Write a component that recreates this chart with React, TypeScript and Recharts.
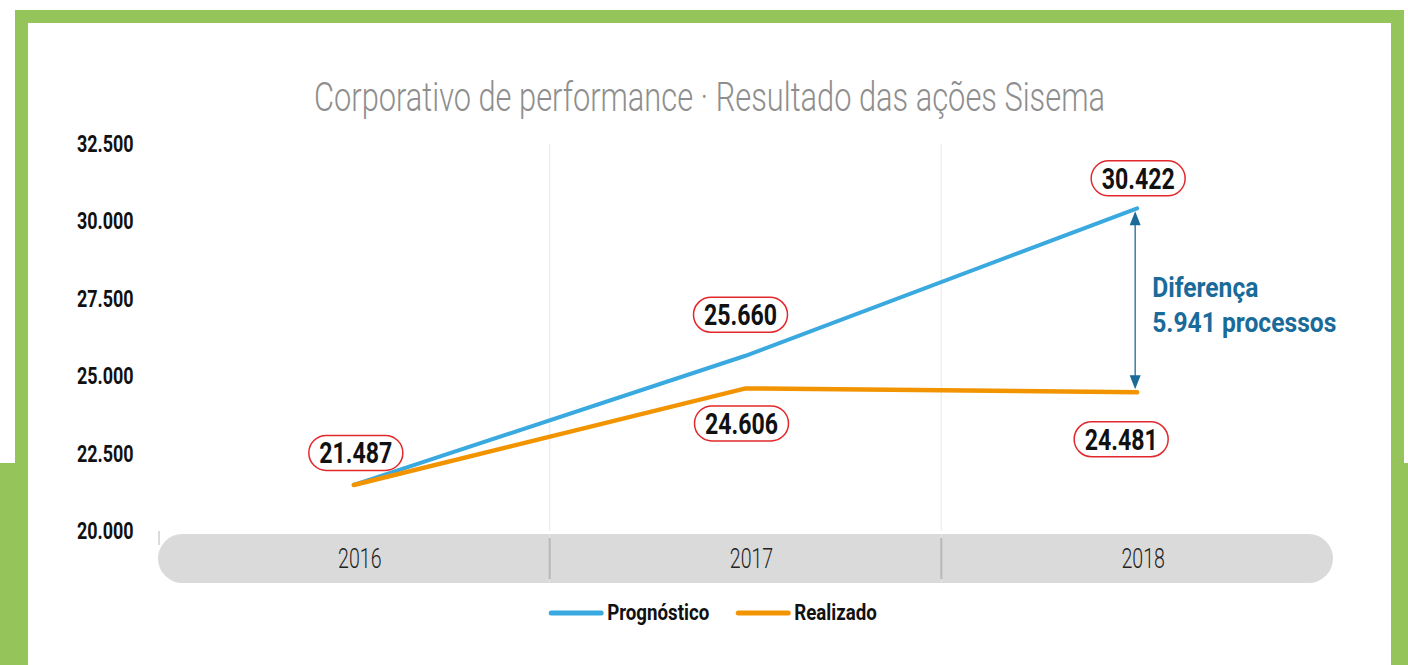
import React from 'react';
import { LineChart, Line, XAxis, YAxis, ReferenceLine, LabelList, Legend } from 'recharts';

// ---- data ----
const years = ['2016', '2017', '2018'];
const prognostico = [21487, 25660, 30422];
const realizado = [21487, 24606, 24481];
const yTicks = [20000, 22500, 25000, 27500, 30000, 32500];
const seriesNames = ['Prognóstico', 'Realizado'];
const title = 'Corporativo de performance · Resultado das ações Sisema';
const diffText = ['Diferença', '5.941 processos'];

const data = years.map((y, i) => ({ idx: i, year: y, prognostico: prognostico[i], realizado: realizado[i] }));
const xTicks = years.map((_, i) => i);
const boundaries = years.slice(1).map((_, i) => i + 0.5);

const BLUE = '#39a9df';
const ORANGE = '#f29400';
const GREEN = '#95c45a';
const FONT = 'Roboto, "Noto Sans", sans-serif';

const fmt = (v: number) => String(v).replace(/\B(?=(\d{3})+(?!\d))/g, '.');

let ctx: CanvasRenderingContext2D | null = null;
const measure = (t: string, font: string) => {
  if (!ctx) ctx = document.createElement('canvas').getContext('2d');
  if (!ctx) return t.length * 10;
  ctx.font = font;
  return ctx.measureText(t).width;
};

const YTick = (p: any) => (
  <g transform={`translate(${p.x - 81},${p.y + 8}) scale(0.78,1)`}>
    <text x={0} y={0} textAnchor="start" fontFamily={FONT} fontWeight={700} fontSize={23} fill="#111">
      {fmt(p.payload.value)}
    </text>
  </g>
);

const XTick = (p: any) => {
  const n = p.visibleTicksCount || years.length;
  const w = typeof p.width === 'number' ? p.width : 1175;
  const bw = w / n;
  const x0 = p.x - bw / 2;
  const x1 = p.x + bw / 2;
  const top = p.y + 3;
  const h = 49;
  const r = 24.5;
  const i = p.index;
  let d: string;
  if (i === 0) {
    d = `M${x0 + r},${top} H${x1} V${top + h} H${x0 + r} A${r},${r} 0 0 1 ${x0 + r},${top} Z`;
  } else if (i === n - 1) {
    d = `M${x0},${top} H${x1 - r} A${r},${r} 0 0 1 ${x1 - r},${top + h} H${x0} Z`;
  } else {
    d = `M${x0},${top} H${x1} V${top + h} H${x0} Z`;
  }
  return (
    <g>
      <path d={d} fill="#dadada" />
      {i > 0 && <line x1={x0} x2={x0} y1={top + 4} y2={top + h - 4} stroke="#b8b8b8" strokeWidth={2} />}
      {i === 0 && <line x1={x0 + 1} x2={x0 + 1} y1={p.y} y2={p.y + 14} stroke="#cfcfcf" strokeWidth={1.5} />}
      <g transform={`translate(${p.x + 6},${p.y + 37}) scale(0.7,1)`}>
        <text x={0} y={0} textAnchor="middle" fontFamily={FONT} fontWeight={300} fontSize={28} fill="#222">
          {years[p.payload.value]}
        </text>
      </g>
    </g>
  );
};

const Pill = ({ cx, cy, text }: { cx: number; cy: number; text: string }) => (
  <g>
    <rect x={cx - 47} y={cy - 17.5} width={94} height={35} rx={17.5} fill="#fff" stroke="#e3282b" strokeWidth={1.5} />
    <g transform={`translate(${cx},${cy + 10.5}) scale(0.77,1)`}>
      <text x={0} y={0} textAnchor="middle" fontFamily={FONT} fontWeight={700} fontSize={30} fill="#111">
        {text}
      </text>
    </g>
  </g>
);

const progOffsets = [
  [2, -32],
  [-5, -41],
  [1, -30],
];
const realOffsets = [
  null,
  [-4, 35],
  [-16, 47],
];

const ProgLabel = (p: any) => {
  const o = progOffsets[p.index];
  if (!o) return null;
  return <Pill cx={p.x + o[0]} cy={p.y + o[1]} text={fmt(p.value)} />;
};
const RealLabel = (p: any) => {
  const o = realOffsets[p.index];
  if (!o) return null;
  return <Pill cx={p.x + o[0]} cy={p.y + o[1]} text={fmt(p.value)} />;
};

const DiffArrow = (p: any) => {
  const x = p.x1 - 2;
  const ya = Math.min(p.y1, p.y2) + 3;
  const yb = Math.max(p.y1, p.y2) - 3;
  const c = '#1b6b9a';
  const mid = (ya + yb) / 2;
  return (
    <g>
      <line x1={x} x2={x} y1={ya + 10} y2={yb - 10} stroke={c} strokeWidth={1.3} />
      <polygon points={`${x},${ya} ${x - 5.5},${ya + 14} ${x + 5.5},${ya + 14}`} fill={c} />
      <polygon points={`${x},${yb} ${x - 5.5},${yb - 14} ${x + 5.5},${yb - 14}`} fill={c} />
      {diffText.map((t, i) => (
        <g key={t} transform={`translate(${x + 17},${mid - 3 + i * 35}) scale(0.88,1)`}>
          <text x={0} y={0} fontFamily={FONT} fontWeight={700} fontSize={28} fill={c}>
            {t}
          </text>
        </g>
      ))}
    </g>
  );
};

const LEGEND_SCALE = 0.85;
const LEGEND_FONT = `700 22px ${FONT}`;
const LegendContent = (props: any) => {
  const items = (props.payload || []) as any[];
  const widths = items.map((it) => 58 + measure(String(it.value), LEGEND_FONT) * LEGEND_SCALE);
  const gap = 27;
  const total = widths.reduce((a, b) => a + b, 0) + gap * (items.length - 1);
  let x = 713 - total / 2;
  return (
    <svg width={1408} height={34} style={{ display: 'block' }}>
      {items.map((it, i) => {
        const x0 = x;
        x += widths[i] + gap;
        return (
          <g key={String(it.value)}>
            <line x1={x0 + 2} x2={x0 + 52} y1={15} y2={15} stroke={it.color} strokeWidth={5} strokeLinecap="round" />
            <g transform={`translate(${x0 + 58},22) scale(${LEGEND_SCALE},1)`}>
              <text x={0} y={0} fontFamily={FONT} fontWeight={700} fontSize={22} fill="#111">
                {it.value}
              </text>
            </g>
          </g>
        );
      })}
    </svg>
  );
};

export default function App() {
  return (
    <div style={{ position: 'absolute', left: 0, top: 0, width: 1408, height: 665, background: '#fff', overflow: 'hidden' }}>
      <div style={{ position: 'absolute', left: 0, top: 463, width: 1408, height: 202, background: GREEN }} />
      <div style={{ position: 'absolute', left: 15, top: 10, width: 1389, height: 655, background: GREEN }} />
      <div style={{ position: 'absolute', left: 28, top: 23, width: 1363, height: 642, background: '#fff' }} />
      <svg width={1408} height={665} style={{ position: 'absolute', left: 0, top: 0 }}>
        <text
          x={709.5}
          y={111}
          textAnchor="middle"
          textLength={791}
          lengthAdjust="spacingAndGlyphs"
          fontFamily={FONT}
          fontWeight={300}
          fontSize={41}
          fill="#8e8e8e"
        >
          {title}
        </text>
      </svg>
      <div style={{ position: 'absolute', left: 0, top: 0 }}>
        <LineChart width={1408} height={665} data={data} margin={{ top: 144, right: 75, bottom: 74, left: 77 }}>
          {boundaries.map((b) => (
            <ReferenceLine key={b} x={b} stroke="#eeeeee" strokeWidth={1.5} ifOverflow="visible" />
          ))}
          <XAxis
            dataKey="idx"
            type="number"
            domain={[-0.5, years.length - 0.5]}
            ticks={xTicks}
            axisLine={false}
            tickLine={false}
            tickSize={0}
            tickMargin={0}
            height={60}
            interval={0}
            tick={<XTick />}
          />
          <YAxis
            type="number"
            domain={[yTicks[0], yTicks[yTicks.length - 1]]}
            ticks={yTicks}
            axisLine={false}
            tickLine={false}
            tickSize={0}
            tickMargin={0}
            width={81}
            interval={0}
            tick={<YTick />}
          />
          <ReferenceLine
            segment={[
              { x: years.length - 1, y: prognostico[prognostico.length - 1] },
              { x: years.length - 1, y: realizado[realizado.length - 1] },
            ]}
            ifOverflow="visible"
            shape={(p: any) => <DiffArrow {...p} />}
          />
          <Line
            dataKey="prognostico"
            name={seriesNames[0]}
            stroke={BLUE}
            strokeWidth={4}
            dot={false}
            activeDot={false}
            strokeLinecap="round"
            isAnimationActive={false}
          >
            <LabelList dataKey="prognostico" content={(p: any) => <ProgLabel {...p} />} />
          </Line>
          <Line
            dataKey="realizado"
            name={seriesNames[1]}
            stroke={ORANGE}
            strokeWidth={4.5}
            dot={false}
            activeDot={false}
            strokeLinecap="round"
            isAnimationActive={false}
          >
            <LabelList dataKey="realizado" content={(p: any) => <RealLabel {...p} />} />
          </Line>
          <Legend
            verticalAlign="middle"
            align="center"
            layout="horizontal"
            wrapperStyle={{ top: 598, left: 0, width: 1408 }}
            content={(p: any) => <LegendContent {...p} />}
          />
        </LineChart>
      </div>
    </div>
  );
}
